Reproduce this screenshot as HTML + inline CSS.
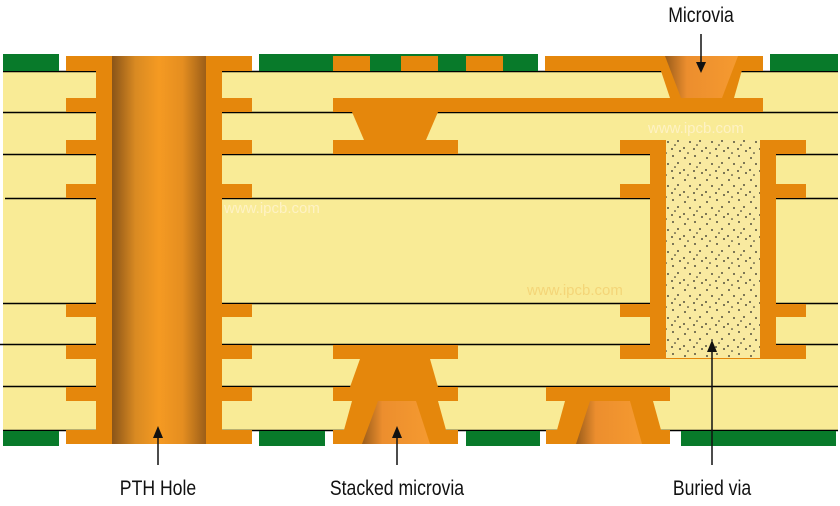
<!DOCTYPE html>
<html><head><meta charset="utf-8"><style>
html,body{margin:0;padding:0;background:#fff;}
svg{display:block;}
.lbl{font-family:"Liberation Sans Narrow","Liberation Sans",sans-serif;font-size:21px;fill:#111;}
.wm{font-family:"Liberation Sans",sans-serif;font-size:15px;}
</style></head><body>
<svg width="840" height="506" viewBox="0 0 840 506" xmlns="http://www.w3.org/2000/svg">
<defs>
<linearGradient id="hole" x1="0" x2="1" y1="0" y2="0">
<stop offset="0" stop-color="#8a5418"/><stop offset="0.25" stop-color="#d98a22"/><stop offset="0.5" stop-color="#f59a22"/><stop offset="0.75" stop-color="#e58e20"/><stop offset="1" stop-color="#9c5e18"/>
</linearGradient>
<linearGradient id="cone" x1="0" x2="1" y1="0" y2="0">
<stop offset="0" stop-color="#9a5c1a"/><stop offset="0.3" stop-color="#ec8e2e"/><stop offset="1" stop-color="#f59a30"/>
</linearGradient>
<pattern id="dots" width="22" height="22" patternUnits="userSpaceOnUse">
<rect width="22" height="22" fill="#f9eaa0"/>
<circle cx="3" cy="4" r="0.9" fill="#222"/><circle cx="13" cy="2" r="0.9" fill="#222"/><circle cx="8" cy="10" r="0.9" fill="#222"/><circle cx="18" cy="9" r="0.9" fill="#222"/><circle cx="2" cy="16" r="0.9" fill="#222"/><circle cx="12" cy="17" r="0.9" fill="#222"/><circle cx="20" cy="19" r="0.9" fill="#222"/><circle cx="15" cy="13" r="0.8" fill="#222"/><circle cx="6" cy="21" r="0.8" fill="#222"/>
</pattern>
</defs>
<rect x="3" y="71" width="835" height="359" fill="#f9eb96"/>
<g stroke="#000" stroke-width="1.6">
<line x1="3" y1="71.5" x2="838" y2="71.5"/><line x1="3" y1="112.5" x2="838" y2="112.5"/><line x1="3" y1="154.5" x2="838" y2="154.5"/><line x1="5" y1="198.5" x2="838" y2="198.5"/><line x1="3" y1="303.5" x2="838" y2="303.5"/><line x1="0" y1="344.5" x2="838" y2="344.5"/><line x1="3" y1="386.5" x2="838" y2="386.5"/><line x1="3" y1="430.5" x2="838" y2="430.5"/>
</g>
<g fill="#087a2a">
<rect x="3" y="54" width="56" height="17"/><rect x="259" y="54" width="279" height="17"/><rect x="770" y="54" width="68" height="17"/>
<rect x="3" y="431" width="56" height="15"/><rect x="259" y="431" width="66" height="15"/><rect x="466" y="431" width="74" height="15"/><rect x="681" y="431" width="155" height="15"/>
</g>
<g fill="#e5870c">
<rect x="333" y="56" width="37" height="15"/><rect x="401" y="56" width="37" height="15"/><rect x="466" y="56" width="37" height="15"/>
<rect x="66" y="56" width="186" height="15"/><rect x="96" y="56" width="126" height="388"/><rect x="66" y="430" width="186" height="14"/>
<rect x="66" y="98" width="186" height="14"/><rect x="66" y="140" width="186" height="14"/><rect x="66" y="184" width="186" height="14"/>
<rect x="66" y="304" width="186" height="13"/><rect x="66" y="345" width="186" height="14"/><rect x="66" y="387" width="186" height="14"/>
<rect x="333" y="98" width="430" height="14"/>
<polygon points="352,112 438,112 426,140 364,140"/>
<rect x="333" y="140" width="125" height="14"/>
<rect x="333" y="345" width="125" height="14"/>
<polygon points="360,359 430,359 438,387 350,387"/>
<rect x="333" y="387" width="125" height="14"/>
<polygon points="352,401 438,401 446,430 344,430"/>
<rect x="333" y="430" width="125" height="14"/>
<rect x="546" y="387" width="124" height="14"/>
<polygon points="565,401 653,401 661,430 557,430"/>
<rect x="546" y="430" width="124" height="14"/>
<rect x="545" y="56" width="218" height="15"/>
<polygon points="656,56 746,56 734,98 670,98"/>
<rect x="650" y="140" width="126" height="218"/>
<rect x="620" y="140" width="186" height="14"/><rect x="620" y="184" width="186" height="14"/><rect x="620" y="304" width="186" height="13"/><rect x="620" y="345" width="186" height="14"/>
</g>
<rect x="112" y="56" width="94" height="388" fill="url(#hole)"/>
<polygon points="665,56 738,56 722,98 681,98" fill="url(#cone)"/>
<polygon points="378,401 416,401 430,444 362,444" fill="url(#cone)"/>
<polygon points="590,401 630,401 642,444 576,444" fill="url(#cone)"/>
<rect x="666" y="140" width="94" height="218" fill="url(#dots)"/>
<text class="wm" x="224" y="213" fill="#fff4d0" fill-opacity="0.8">www.ipcb.com</text>
<text class="wm" x="648" y="133" fill="#fff4d0" fill-opacity="0.8">www.ipcb.com</text>
<text class="wm" x="527" y="295" fill="#f2cf70" fill-opacity="0.8">www.ipcb.com</text>
<g stroke="#111" stroke-width="1.5">
<line x1="701" y1="34" x2="701" y2="64"/><line x1="158" y1="465" x2="158" y2="436"/><line x1="397" y1="465" x2="397" y2="436"/><line x1="712" y1="465" x2="712" y2="350"/>
</g>
<g fill="#111">
<polygon points="696,62 706,62 701,73"/><polygon points="153,438 163,438 158,426"/><polygon points="392,438 402,438 397,426"/><polygon points="707,352 717,352 712,340"/>
</g>
<text class="lbl" text-anchor="middle" transform="translate(701,22) scale(0.84,1)">Microvia</text>
<text class="lbl" text-anchor="middle" transform="translate(158,495) scale(0.84,1)">PTH Hole</text>
<text class="lbl" text-anchor="middle" transform="translate(397,495) scale(0.84,1)">Stacked microvia</text>
<text class="lbl" text-anchor="middle" transform="translate(712,495) scale(0.84,1)">Buried via</text>
</svg>
</body></html>
